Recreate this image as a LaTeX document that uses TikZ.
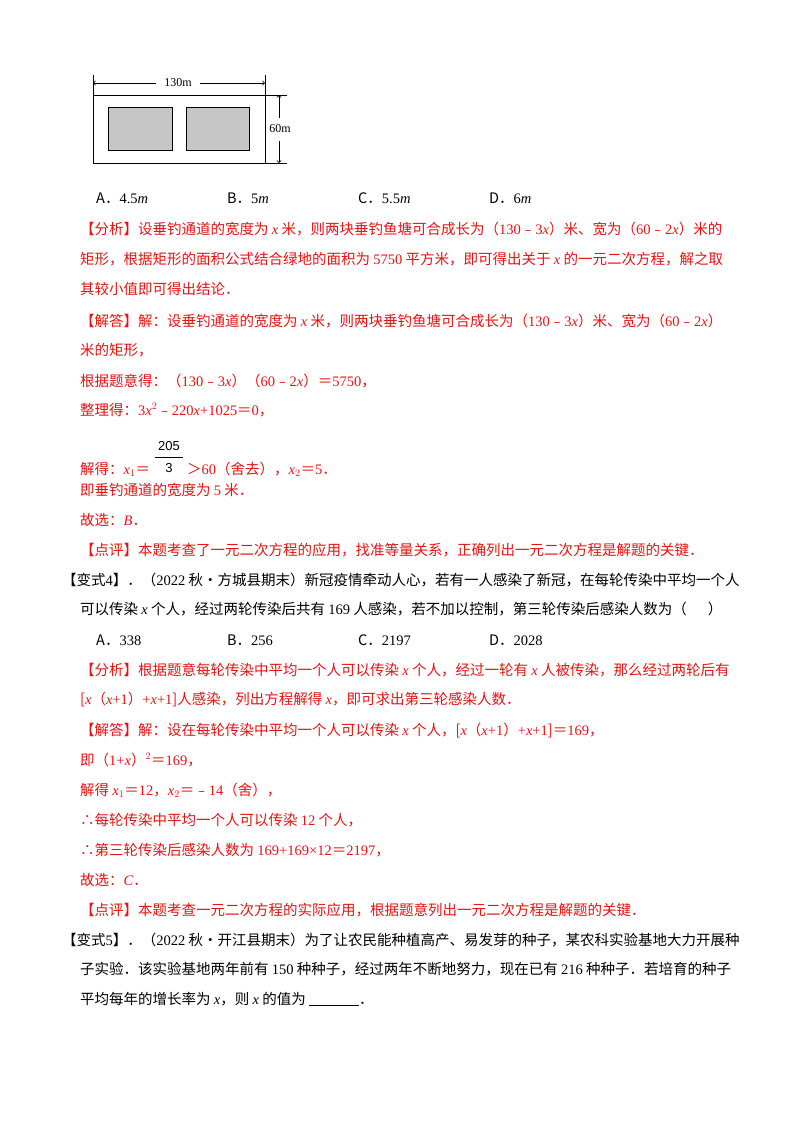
\documentclass[tikz,border=0pt]{standalone}
\usepackage{fontspec}
\setmainfont{Noto Sans CJK SC}
\newfontfamily\latf{Liberation Serif}
\newfontfamily\sanf{Liberation Sans}
\newcommand\LT[1]{{\latf #1}}
\newcommand\XX[1]{{\latf\itshape #1}}
\definecolor{rd}{RGB}{230,20,20}
\begin{document}
\begin{tikzpicture}[x=1pt,y=-1pt,
  tl/.style={anchor=base west,inner sep=0pt,font=\fontsize{14.5}{14.5}\selectfont},
  rl/.style={tl,text=rd},
  line/.style={line width=0.8pt}]
\useasboundingbox (0,0) rectangle (800,1132);
\fill[white] (0,0) rectangle (800,1132);
% figure
\draw[line] (93,95) rectangle (265,163);
\draw[line,fill=gray!45] (108,107) rectangle (172,150);
\draw[line,fill=gray!45] (186,107) rectangle (249,150);
\draw[line] (93,75)--(93,95) (265,75)--(265,95);
\draw[line] (265,95)--(287,95) (265,163)--(287,163);
\node[font=\latf\fontsize{12}{12}\selectfont,inner sep=0pt] (w) at (178,83) {130m};
\coordinate (wl) at (93,83); \coordinate (wr) at (265,83);
\draw[line,->] (w.west)++(-8,0) -- (wl);
\draw[line,->] (w.east)++(8,0) -- (wr);
\node[font=\latf\fontsize{12}{12}\selectfont,inner sep=0pt,fill=white] (h) at (280,129) {60m};
\coordinate (ht) at (279,95); \coordinate (hb) at (279,163);
\draw[line,->] (279,118) -- (ht);
\draw[line,->] (279,141) -- (hb);
% choices
\node[tl] (a1) at (96,203) {A．\LT{4.5}\XX{m}};
\node[tl] (a2) at (227,203) {B．\LT{5}\XX{m}};
\node[tl] (a3) at (358,203) {C．\LT{5.5}\XX{m}};
\node[tl] (a4) at (489,203) {D．\LT{6}\XX{m}};
\node[rl] (l1) at (80,234) {【分析】设垂钓通道的宽度为 \XX{x} 米，则两块垂钓鱼塘可合成长为（\LT{130}﹣\LT{3}\XX{x}）米、宽为（\LT{60}﹣\LT{2}\XX{x}）米的};
\node[rl] (l2) at (80,264) {矩形，根据矩形的面积公式结合绿地的面积为 \LT{5750} 平方米，即可得出关于 \XX{x} 的一元二次方程，解之取};
\node[rl] (l3) at (80,294) {其较小值即可得出结论．};
\node[rl] (l4) at (80,326) {【解答】解：设垂钓通道的宽度为 \XX{x} 米，则两块垂钓鱼塘可合成长为（\LT{130}﹣\LT{3}\XX{x}）米、宽为（\LT{60}﹣\LT{2}\XX{x}）};
\node[rl] (l5) at (80,355) {米的矩形，};
\node[rl] (l6) at (80,386) {根据题意得：（\LT{130}﹣\LT{3}\XX{x}）（\LT{60}﹣\LT{2}\XX{x}）＝\LT{5750}，};
\node[rl] (l7) at (80,415) {整理得：\LT{3}\XX{x}$^{\LT{2}}$﹣\LT{220}\XX{x}\LT{+1025}＝\LT{0}，};
\node[rl] (l8) at (80,474) {解得：\XX{x}$_{\LT{1}}$＝};
\node[inner sep=0pt,font=\sanf\fontsize{13}{13}\selectfont] (num) at (169,446) {205};
\draw[line width=0.6pt] (155,457)--(183,457);
\node[inner sep=0pt,font=\sanf\fontsize{13}{13}\selectfont] (den) at (169,468) {3};
\node[rl] (l8b) at (187,474) {＞\LT{60}（舍去），\XX{x}$_{\LT{2}}$＝\LT{5}．};
\node[rl] (l9) at (80,495) {即垂钓通道的宽度为 \LT{5} 米．};
\node[rl] (l10) at (80,525) {故选：\XX{B}．};
\node[rl] (l11) at (80,555) {【点评】本题考查了一元二次方程的应用，找准等量关系，正确列出一元二次方程是解题的关键．};
\node[tl] (v4) at (62,585) {【变式\LT{4}】．（\LT{2022} 秋•方城县期末）新冠疫情牵动人心，若有一人感染了新冠，在每轮传染中平均一个人};
\node[tl] (v4b) at (80,614) {可以传染 \XX{x} 个人，经过两轮传染后共有 \LT{169} 人感染，若不加以控制，第三轮传染后感染人数为（\quad\ \ ）};
\node[tl] (b1) at (96,645) {A．\LT{338}};
\node[tl] (b2) at (227,645) {B．\LT{256}};
\node[tl] (b3) at (358,645) {C．\LT{2197}};
\node[tl] (b4) at (489,645) {D．\LT{2028}};
\node[rl] (m1) at (80,675) {【分析】根据题意每轮传染中平均一个人可以传染 \XX{x} 个人，经过一轮有 \XX{x} 人被传染，那么经过两轮后有};
\node[rl] (m2) at (80,704) {[\XX{x}（\XX{x}\LT{+1}）\LT{+}\XX{x}\LT{+1}]人感染，列出方程解得 \XX{x}，即可求出第三轮感染人数．};
\node[rl] (m3) at (80,735) {【解答】解：设在每轮传染中平均一个人可以传染 \XX{x} 个人，[\XX{x}（\XX{x}\LT{+1}）\LT{+}\XX{x}\LT{+1}]＝\LT{169}，};
\node[rl] (m4) at (80,765) {即（\LT{1+}\XX{x}）$^{\LT{2}}$＝\LT{169}，};
\node[rl] (m5) at (80,795) {解得 \XX{x}$_{\LT{1}}$＝\LT{12}，\XX{x}$_{\LT{2}}$＝﹣\LT{14}（舍），};
\node[rl] (m6) at (80,825) {∴每轮传染中平均一个人可以传染 \LT{12} 个人，};
\node[rl] (m7) at (80,855) {∴第三轮传染后感染人数为 \LT{169+169×12}＝\LT{2197}，};
\node[rl] (m8) at (80,885) {故选：\XX{C}．};
\node[rl] (m9) at (80,915) {【点评】本题考查一元二次方程的实际应用，根据题意列出一元二次方程是解题的关键．};
\node[tl] (v5) at (62,945) {【变式\LT{5}】．（\LT{2022} 秋•开江县期末）为了让农民能种植高产、易发芽的种子，某农科实验基地大力开展种};
\node[tl] (v5b) at (80,974) {子实验．该实验基地两年前有 \LT{150} 种种子，经过两年不断地努力，现在已有 \LT{216} 种种子．若培育的种子};
\node[tl] (v5c) at (80,1004) {平均每年的增长率为 \XX{x}，则 \XX{x} 的值为 \underline{\hspace{50pt}}．};
\end{tikzpicture}
\end{document}
